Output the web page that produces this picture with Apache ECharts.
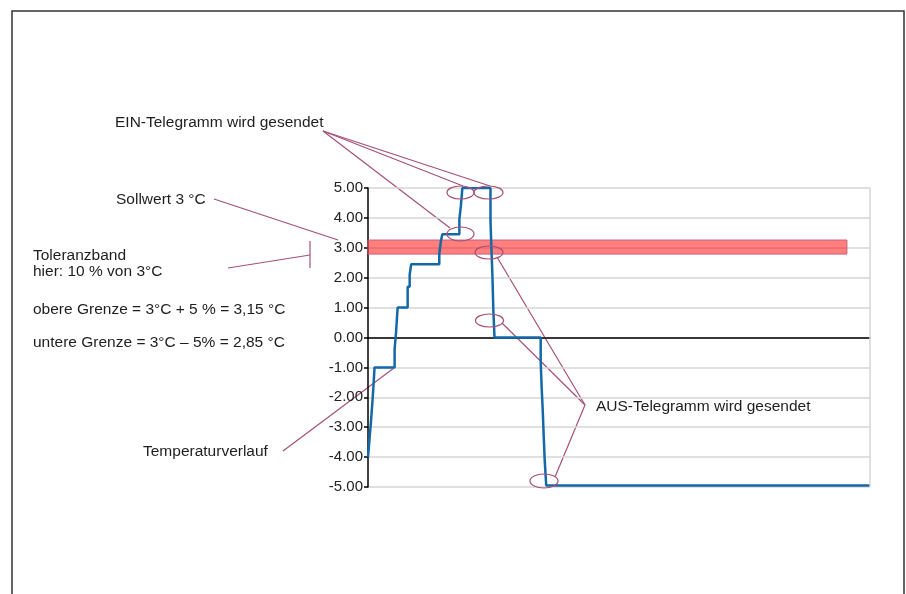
<!DOCTYPE html>
<html>
<head>
<meta charset="utf-8">
<script src="https://cdn.jsdelivr.net/npm/echarts@6/dist/echarts.min.js"></script>
<style>
  html, body { margin: 0; padding: 0; background: #fff; }
  #chart { width: 906px; height: 594px; }
</style>
</head>
<body>
<div id="chart"></div>
<script>
// Zeitachse (relativ, 0..100) und Temperaturstufen (°C), Stufe gilt ab dem jeweiligen Zeitpunkt
const zeit = [0, 0.3, 0.6, 0.9, 1.1, 1.3, 5.3, 5.6, 5.9, 7.9, 8.3, 8.6, 14.2, 14.5, 14.8,
  18.2, 18.5, 18.8, 24.4, 24.6, 24.8, 24.95, 25.2, 34.4, 34.6, 34.8, 35.0, 35.2, 35.5, 100];
const temperatur = [-4.0, -3.4, -2.8, -2.1, -1.6, -1.0, -0.4, 0.2, 1.0, 1.7, 2.1, 2.45, 2.8, 3.2, 3.45,
  3.95, 4.4, 5.0, 3.9, 2.9, 2.0, 1.0, 0.0, -0.8, -1.7, -2.4, -3.3, -4.1, -4.95, -4.95];

// Toleranzband (wie im Bild gezeichnet)
const bandUnten = 2.79;
const bandOben = 3.26;
const bandEnde = 95.4;

const yMin = -5;
const yMax = 5;

const chart = echarts.init(document.getElementById('chart'));

const purple = '#a4517a';
const font = '"Liberation Sans", Arial, sans-serif';

const txt = (x, y, text) => ({
  type: 'text', x: x, y: y, silent: true,
  style: { text: text, fill: '#1e1e1e', font: '15.5px ' + font, textVerticalAlign: 'middle' }
});
const line = (x1, y1, x2, y2) => ({
  type: 'line', silent: true,
  shape: { x1: x1, y1: y1, x2: x2, y2: y2 },
  style: { stroke: purple, lineWidth: 1.2 }
});
const ell = (cx, cy, rx, ry) => ({
  type: 'ellipse', silent: true, z: 20,
  shape: { cx: cx, cy: cy, rx: rx, ry: ry },
  style: { fill: 'none', stroke: purple, lineWidth: 1.2 }
});

const option = {
  animation: false,
  backgroundColor: '#fff',
  grid: { left: 368, right: 36, top: 188, bottom: 107 },
  xAxis: {
    type: 'value',
    min: 0,
    max: 100,
    axisLine: { show: true, onZero: true, lineStyle: { color: '#000', width: 1.5 } },
    axisTick: { show: false },
    axisLabel: { show: false },
    splitLine: { show: false }
  },
  yAxis: {
    type: 'value',
    min: yMin,
    max: yMax,
    interval: 1,
    axisLine: { show: true, lineStyle: { color: '#000', width: 1.5 } },
    axisTick: { show: true, length: 4, lineStyle: { color: '#000', width: 1.5 } },
    axisLabel: {
      margin: 5,
      color: '#222',
      fontFamily: font,
      fontSize: 15,
      formatter: v => v.toFixed(2)
    },
    splitLine: { show: true, lineStyle: { color: '#d6d6d6', width: 1.5 } }
  },
  series: [
    {
      type: 'line',
      step: 'end',
      showSymbol: false,
      z: 3,
      lineStyle: { color: '#1368a8', width: 2.5 },
      data: zeit.map((x, i) => [x, temperatur[i]])
    },
    {
      type: 'line',
      data: [],
      z: 6,
      markArea: {
        silent: true,
        itemStyle: { color: 'rgba(255,0,0,0.5)', borderColor: '#c9607a', borderWidth: 1 },
        data: [[{ xAxis: 0, yAxis: bandOben }, { xAxis: bandEnde, yAxis: bandUnten }]]
      },
      markLine: {
        silent: true,
        symbol: 'none',
        label: { show: false },
        lineStyle: { color: '#d6d6d6', width: 1.5, type: 'solid' },
        data: [{ xAxis: 100 }]
      }
    }
  ],
  graphic: [
    {
      type: 'rect', silent: true, z: 0,
      shape: { x: 12, y: 11, width: 892, height: 600 },
      style: { fill: 'none', stroke: '#333', lineWidth: 1.5 }
    },
    txt(115, 123, 'EIN-Telegramm wird gesendet'),
    line(323, 131, 463, 186),
    line(323, 131, 490, 186),
    line(323, 131, 450, 228),
    ell(460.5, 192.5, 13.5, 6.5),
    ell(488.5, 192.5, 14.5, 6.5),
    ell(460.5, 234, 13.5, 7),

    txt(116, 200, 'Sollwert 3 °C'),
    line(214, 199, 338, 240),

    txt(33, 256, 'Toleranzband'),
    txt(33, 272, 'hier: 10 % von 3°C'),
    line(228, 268, 310, 255),
    line(310, 241, 310, 268),

    txt(33, 310, 'obere Grenze = 3°C + 5 % = 3,15 °C'),
    txt(33, 343, 'untere Grenze = 3°C \u2013 5% = 2,85 °C'),

    txt(143, 452, 'Temperaturverlauf'),
    line(283, 451, 394, 368),

    txt(596, 407, 'AUS-Telegramm wird gesendet'),
    line(585, 405, 497, 257),
    line(585, 405, 502, 323),
    line(585, 405, 555, 477),
    ell(489, 252.5, 14, 6.5),
    ell(489.5, 320.5, 14, 6.5),
    ell(544, 481, 14, 7)
  ]
};

chart.setOption(option);
</script>
</body>
</html>
